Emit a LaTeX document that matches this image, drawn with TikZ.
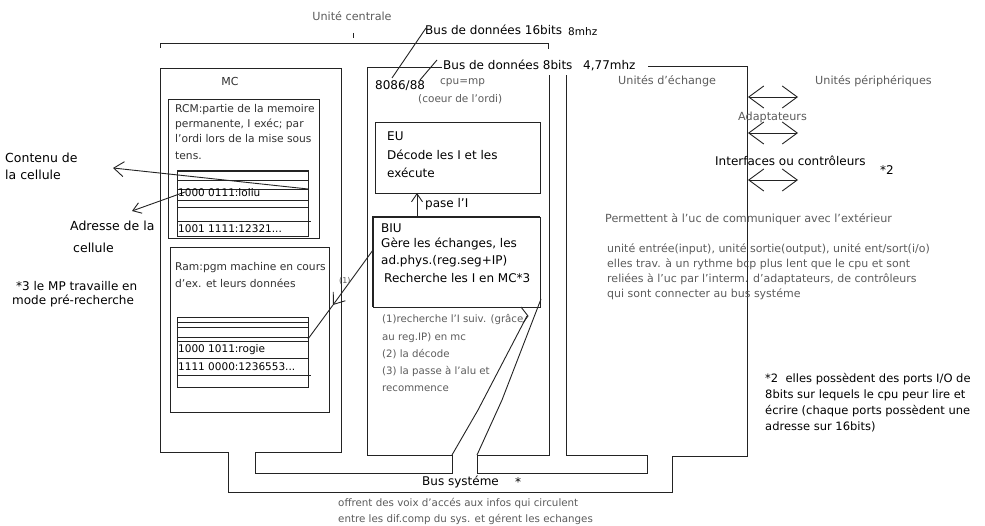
\documentclass[tikz,border=0pt]{standalone}
\usepackage{fontspec}
\setmainfont{DejaVu Sans}
\usetikzlibrary{arrows.meta}
\definecolor{linecol}{RGB}{35,35,35}
\definecolor{graytxt}{RGB}{92,92,92}
\definecolor{darktxt}{RGB}{50,50,50}
\newcommand\fsz[1]{\fontsize{#1}{#1}\selectfont}
\begin{document}
\begin{tikzpicture}[x=1pt,y=-1pt,
  tx/.style={inner sep=0pt, anchor=west, text height=.75em, text depth=.25em},
  blk/.style={tx, text=black, font=\fsz{12}},
  gry/.style={tx, text=graytxt, font=\fsz{11.2}},
  lst/.style={tx, text=graytxt, font=\fsz{10.2}},
  drk/.style={tx, text=darktxt, font=\fsz{10.7}},
  cel/.style={tx, text=black, font=\fsz{10.5}},
  lbl/.style={tx, text=black, font=\fsz{12.5}},
  lw/.style={draw=linecol, line width=0.9pt},
  barb/.style={-{Straight Barb[length=10pt,width=15pt]}},
  barbs/.style={-{Straight Barb[length=8pt,width=11pt]}},
  dbl/.style={{Straight Barb[length=15pt,width=22pt]}-{Straight Barb[length=15pt,width=22pt]}}
]
\useasboundingbox (0,0) rectangle (985,526);
\fill[white] (0,0) rectangle (985,526);

% ---------- bracket "Unite centrale"
\draw[lw] (160,48) -- (160,43) -- (548,43) -- (548,49);
\draw[lw] (353,33) -- (353,38);

% ---------- main outline (MC, CPU, exchange units, system bus)
\draw[lw] (648,66) -- (747,66) -- (747,456) -- (672,456) -- (672,492) -- (228,492)
  -- (228,452) -- (160,452) -- (160,68) -- (341,68) -- (341,452) -- (255,452)
  -- (255,473) -- (452,473) -- (452,455) -- (367,455) -- (367,67) -- (549,67)
  -- (549,455) -- (477,455) -- (477,473) -- (647,473) -- (647,455) -- (566,455)
  -- (566,67);

% ---------- RCM box and its table
\draw[lw] (168,99) rectangle (319,238);
\draw[lw] (177,170) rectangle (308,236);
\draw[draw=linecol, line width=1.5pt] (177,171) -- (308,171);
\foreach \yy in {180,189,200,207} \draw[lw] (177,\yy) -- (308,\yy);
\draw[lw] (177,221) -- (311,221);

% ---------- RAM box and its table
\draw[lw] (170,247) rectangle (329,412);
\draw[lw] (177,317) rectangle (308,387);
\foreach \yy in {322,327,337,341,358} \draw[lw] (177,\yy) -- (308,\yy);
\draw[lw] (177,375) -- (311,375);

% ---------- EU and BIU boxes
\draw[lw] (375,122) rectangle (540,193);
\draw[lw] (373,217) rectangle (540,307);
\draw[draw=linecol, line width=1.7pt] (373,307) -- (373,217) -- (540,217);

% ---------- connector points
\coordinate (biuTop) at (417,217);
\coordinate (euBot) at (417,193);
\coordinate (t1R) at (308,189);
\coordinate (contTip) at (113,168);
\coordinate (t1A) at (185,192);
\coordinate (adrTip) at (132,211);
\coordinate (biuL) at (373,250);
\coordinate (midHead) at (333,305);
\coordinate (t2R) at (308,339);
\coordinate (s1a) at (452,455);
\coordinate (s1b) at (478,410);
\coordinate (s1c) at (527,316);
\coordinate (s2a) at (477,455);
\coordinate (s2b) at (502,400);
\coordinate (s2c) at (541,299);
\coordinate (p8086) at (392,78);
\coordinate (pB16) at (426,28);
\coordinate (p88) at (420,80);
\coordinate (pB8) at (437,60);

% ---------- connectors
\draw[lw,barbs] (biuTop) -- (euBot);
\draw[lw,barb] (t1R) -- (contTip);
\draw[lw,barbs] (t1A) -- (adrTip);
\draw[lw,barb] (biuL) -- (midHead);
\draw[lw] (midHead) -- (t2R);
\draw[lw] (s1a) -- (s1b) -- (s1c);
\draw[lw] (521,307) -- (528,316) -- (523,323);
\draw[lw] (s2a) -- (s2b) -- (s2c);
\draw[lw] (p8086) -- (pB16);
\draw[lw] (p88) -- (pB8);

% ---------- double arrows
\coordinate (da1) at (748,97);  \coordinate (db1) at (798,97);
\coordinate (da2) at (748,133); \coordinate (db2) at (798,133);
\coordinate (da3) at (748,180); \coordinate (db3) at (798,180);
\draw[lw,dbl] (da1) -- (db1);
\draw[lw,dbl] (da2) -- (db2);
\draw[lw,dbl] (da3) -- (db3);

% ---------- texts top
\node[gry,anchor=center] (uc) at (352,18) {Unité centrale};
\node[blk] (b16) at (425,32) {Bus de données 16bits};
\node[blk,font=\fsz{10.5}] (m8) at (568,33) {8mhz};
\node[blk,fill=white,inner xsep=1pt,inner ysep=3pt] (b8) at (442,67) {Bus de données 8bits};
\node[blk,fill=white,inner xsep=2pt,inner ysep=3pt] (m477) at (581,67) {4,77mhz};
\node[blk] (c8086) at (375,87) {8086/88};
\node[gry,font=\fsz{10.5}] (cpu) at (440,82) {cpu=mp};
\node[gry,font=\fsz{10.5}] (coeur) at (418,100) {(coeur de l'ordi)};

% ---------- MC
\node[drk,anchor=center,font=\fsz{11}] (mc) at (230,83) {MC};
\node[drk] (r1) at (175,110) {RCM:partie de la memoire};
\node[drk] (r2) at (175,125) {permanente, I exéc; par};
\node[drk] (r3) at (175,140) {l'ordi lors de la mise sous};
\node[drk] (r4) at (175,157) {tens.};
\node[cel] (c1) at (178,194) {1000 0111:loliu};
\node[cel] (c2) at (178,230) {1001 1111:12321...};
\node[drk] (ra1) at (175,268) {Ram:pgm machine en cours};
\node[drk] (ra2) at (175,285) {d'ex. et leurs données};
\node[cel] (c3) at (178,350) {1000 1011:rogie};
\node[cel] (c4) at (178,368) {1111 0000:1236553...};
\node[lst,font=\fsz{8}] (one) at (339,281) {(1)};

% ---------- left labels
\node[lbl] (ct1) at (5,160) {Contenu de};
\node[lbl] (ct2) at (5,177) {la cellule};
\node[lbl] (ad1) at (70,228) {Adresse de la};
\node[lbl] (ad2) at (73,250) {cellule};
\node[blk] (n31) at (16,288) {*3 le MP travaille en};
\node[blk] (n32) at (12,302) {mode pré-recherche};

% ---------- CPU
\node[blk] (eu1) at (387,138) {EU};
\node[blk] (eu2) at (387,157) {Décode les I et les};
\node[blk] (eu3) at (387,175) {exécute};
\node[blk] (pase) at (425,205) {pase l'I};
\node[blk] (bi1) at (381,230) {BIU};
\node[blk] (bi2) at (381,245) {Gère les échanges, les};
\node[blk] (bi3) at (381,262) {ad.phys.(reg.seg+IP)};
\node[blk] (bi4) at (384,280) {Recherche les I en MC*3};
\node[lst] (l1) at (382,320) {(1)recherche l'I suiv. (grâce};
\node[lst] (l2) at (382,338) {au reg.IP) en mc};
\node[lst] (l3) at (382,355) {(2) la décode};
\node[lst] (l4) at (382,372) {(3) la passe à l'alu et};
\node[lst] (l5) at (382,389) {recommence};

% ---------- exchange units
\node[gry] (ue) at (618,82) {Unités d'échange};
\node[gry] (up) at (815,82) {Unités périphériques};
\node[gry] (adap) at (738,118) {Adaptateurs};
\node[blk] (intf) at (715,163) {Interfaces ou contrôleurs};
\node[blk] (st2) at (880,172) {*2};
\node[gry] (perm) at (605,220) {Permettent à l'uc de communiquer avec l'extérieur};
\node[gry,font=\fsz{11}] (e1) at (607,250) {unité entrée(input), unité sortie(output), unité ent/sort(i/o)};
\node[gry,font=\fsz{11}] (e2) at (607,265) {elles trav. à un rythme bcp plus lent que le cpu et sont};
\node[gry,font=\fsz{11}] (e3) at (607,280) {reliées à l'uc par l'interm. d'adaptateurs, de contrôleurs};
\node[gry,font=\fsz{11}] (e4) at (607,295) {qui sont connecter au bus systéme};
\node[blk,font=\fsz{11.5}] (p1) at (765,380) {*2\ \ elles possèdent des ports I/O de};
\node[blk,font=\fsz{11.5}] (p2) at (765,396) {8bits sur lequels le cpu peur lire et};
\node[blk,font=\fsz{11.5}] (p3) at (765,412) {écrire (chaque ports possèdent une};
\node[blk,font=\fsz{11.5}] (p4) at (765,428) {adresse sur 16bits)};

% ---------- system bus
\node[blk] (bus) at (422,483) {Bus systéme};
\node[blk] (star) at (515,484) {*};
\node[gry,font=\fsz{10.3}] (o1) at (338,504) {offrent des voix d'accés aux infos qui circulent};
\node[gry,font=\fsz{10.3}] (o2) at (338,520) {entre les dif.comp du sys. et gérent les echanges};
\end{tikzpicture}
\end{document}
